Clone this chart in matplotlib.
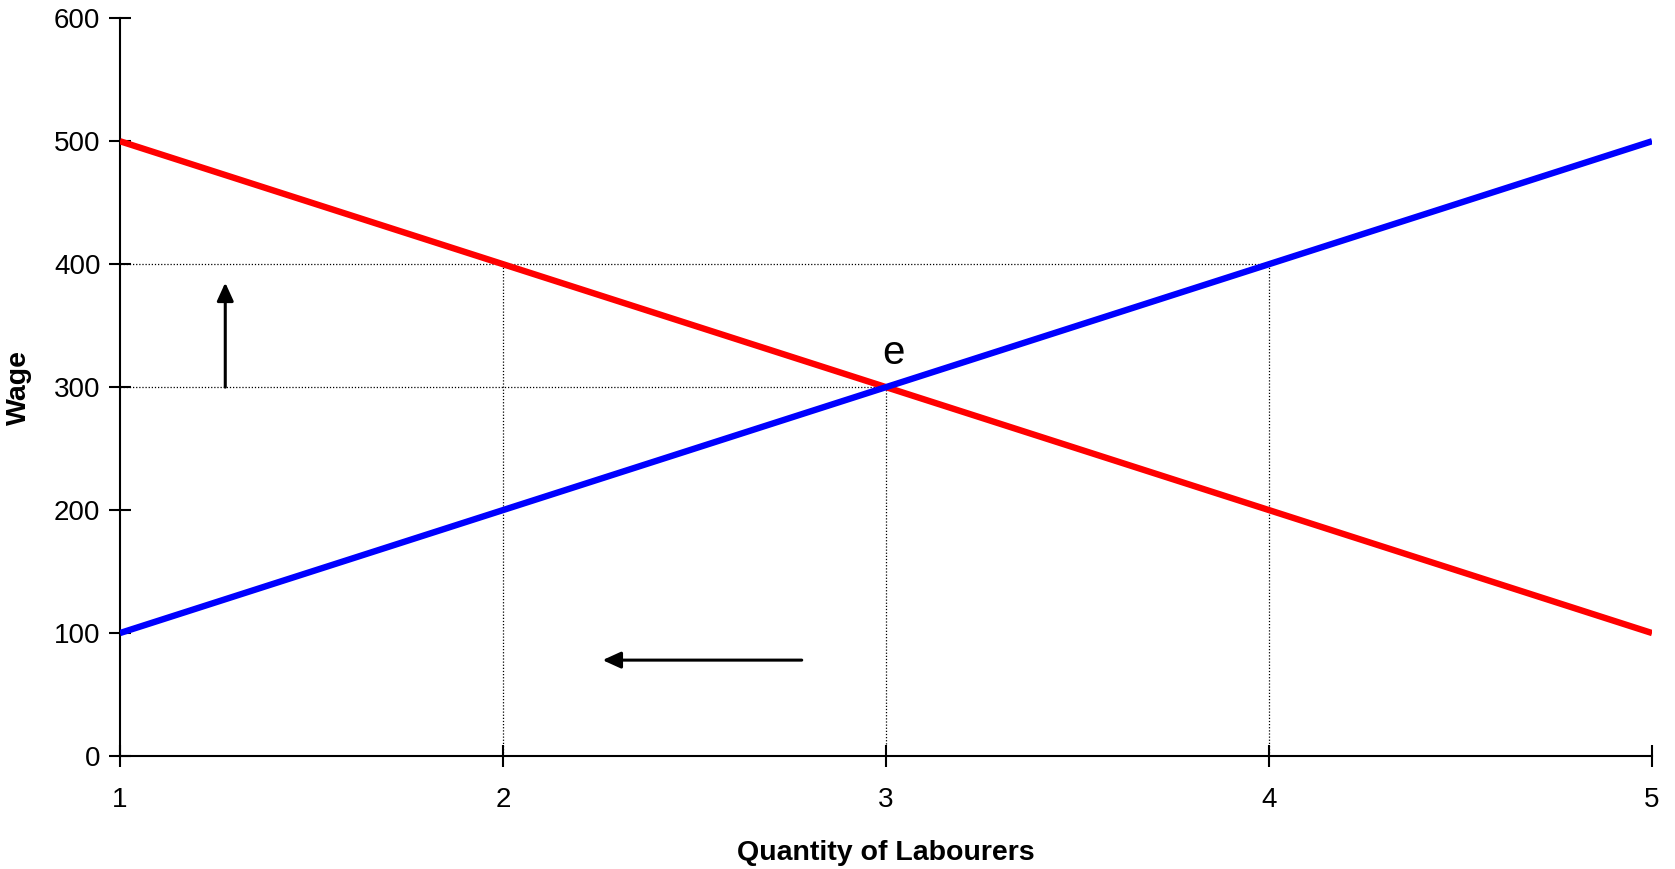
import matplotlib
matplotlib.use("Agg")
import matplotlib.pyplot as plt

# labour market: demand (red) and supply (blue)
quantity = [1, 2, 3, 4, 5]
demand_wage = [500, 400, 300, 200, 100]
supply_wage = [100, 200, 300, 400, 500]

eq_q, eq_w = 3, 300          # equilibrium e
floor_w = 400                # wage after the rise
qd_floor, qs_floor = 2, 4    # quantities demanded / supplied at that wage

plt.rcParams.update({"font.family": ["Liberation Sans", "DejaVu Sans"]})

fig = plt.figure(figsize=(16.75, 8.69), dpi=100)
ax = fig.add_axes([0.0716, 0.130, 0.9147, 0.849])

ax.plot(quantity, demand_wage, color="#ff0000", lw=4.6, solid_capstyle="butt", zorder=3)
ax.plot(quantity, supply_wage, color="#0000ff", lw=4.6, solid_capstyle="butt", zorder=3)

dot = dict(color="black", lw=0.9, ls=(0, (1, 1.5)), zorder=2)
ax.plot([quantity[0], qs_floor], [floor_w, floor_w], **dot)
ax.plot([quantity[0], eq_q], [eq_w, eq_w], **dot)
ax.plot([qd_floor, qd_floor], [0, floor_w], **dot)
ax.plot([qs_floor, qs_floor], [0, floor_w], **dot)
ax.plot([eq_q, eq_q], [10, eq_w], **dot)

ax.text(eq_q + 0.02, eq_w + 28, "e", fontsize=29, ha="center", va="center")

arrow = dict(arrowstyle="-|>,head_length=1.1,head_width=0.5", color="black", lw=2.2,
             shrinkA=0, shrinkB=0, mutation_scale=10)
ax.annotate("", xy=(1.275, 385), xytext=(1.275, 300), arrowprops=arrow)
ax.annotate("", xy=(2.26, 78), xytext=(2.78, 78), arrowprops=arrow)

ax.set_xlim(1, 5)
ax.set_ylim(0, 600)
ax.set_xticks(quantity)
ax.set_yticks(range(0, 601, 100))
ax.spines["top"].set_visible(False)
ax.spines["right"].set_visible(False)
for s in ("left", "bottom"):
    ax.spines[s].set_linewidth(1.5)
ax.tick_params(direction="inout", length=16, width=1.5, labelsize=20)
ax.tick_params(axis="x", pad=14)
ax.tick_params(axis="y", pad=6)

ax.set_xlabel("Quantity of Labourers", fontsize=20.5, fontweight="bold", labelpad=20)
ax.set_ylabel("Wage", fontsize=20.5, fontweight="bold", labelpad=16)

fig.savefig("out.png")
